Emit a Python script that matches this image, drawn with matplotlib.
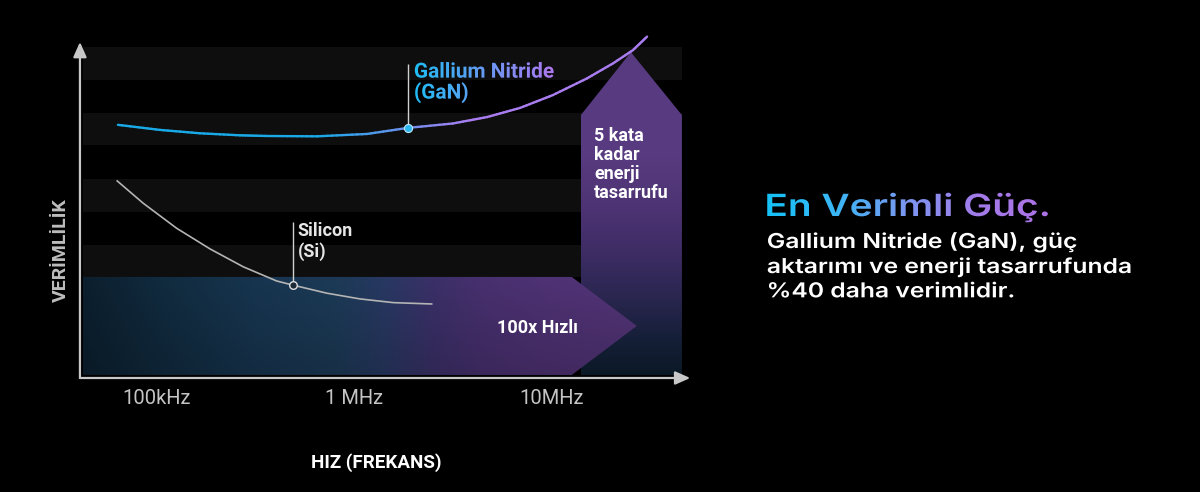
import numpy as np
import matplotlib
matplotlib.use('Agg')
import matplotlib.pyplot as plt
from matplotlib import patheffects
from matplotlib.patches import Polygon, Rectangle
from matplotlib.collections import LineCollection
from matplotlib.colors import to_rgb
from matplotlib.transforms import Affine2D, IdentityTransform, TransformedPath

# verimlilik egrileri (frekans MHz, verimlilik 0-100 keyfi birim)
gan_mhz = [0.0634, 0.1035, 0.165, 0.263, 0.361, 0.646, 1.157, 1.866, 3.15, 4.69,
           6.89, 10.1, 15.0, 20.4, 25.7, 30.3]
gan_eff = [74.9, 73.4, 72.4, 71.8, 71.6, 71.5, 72.2, 74.0, 75.3, 77.2,
           79.9, 83.7, 88.6, 93.1, 97.0, 101.0]
si_mhz = [0.0629, 0.0852, 0.1258, 0.1855, 0.2735, 0.4037, 0.4865, 0.7232, 1.066,
          1.572, 2.46]
si_eff = [58.3, 51.7, 44.3, 38.2, 32.9, 28.7, 27.5, 25.1, 23.4, 22.3, 21.9]
gan_point = (1.866, 74.0)
si_point = (0.4865, 27.5)

tick_mhz = [0.1, 1, 10]
tick_labels = ['100kHz', '1 MHz', '10MHz']

# arka plan seritleri ve oklar
band_mhz = (0.042, 45.5)
bands = [(29.9, 39.3), (49.1, 58.9), (68.9, 78.4), (88.2, 97.9)]
h_arrow_mhz = (0.042, 12.6, 26.9)     # baslangic, omuz, uc
h_arrow_eff = (0.9, 29.9)
v_arrow_mhz = (14.0, 25.1, 45.5)      # sol, uc, sag
v_arrow_eff = (0.9, 77.8, 96.4)       # alt, omuz, uc


class Boya(patheffects.AbstractPathEffect):
    '''yaziyi yatay genisletir, istenirse renk gecisiyle boyar (x0, x1 piksel)'''
    def __init__(self, colors=None, x0=0, x1=1, sx=1.0):
        super().__init__()
        self.x0, self.x1, self.sx = x0, x1, sx
        self.cols = None if colors is None else np.array([to_rgb(c) for c in colors])

    def draw_path(self, renderer, gc, tpath, affine, rgbFace=None):
        path = affine.transform_path(tpath)
        l0 = path.get_extents().x0
        path = Affine2D().translate(-l0, 0).scale(self.sx, 1).translate(l0, 0).transform_path(path)
        if self.cols is None:
            renderer.draw_path(gc, path, IdentityTransform(), rgbFace)
            return
        ext = path.get_extents()
        l, b = int(np.floor(ext.x0)), int(np.floor(ext.y0))
        w = int(np.ceil(ext.x1)) - l + 1
        h = int(np.ceil(ext.y1)) - b + 1
        xs = l + np.arange(w) + 0.5
        t = np.clip((xs - self.x0) / (self.x1 - self.x0), 0, 1)
        pos = np.linspace(0, 1, len(self.cols))
        rgb = np.stack([np.interp(t, pos, self.cols[:, k]) for k in range(3)], axis=1)
        img = np.full((h, w, 4), 255, dtype=np.uint8)
        img[:, :, :3] = (rgb * 255).astype(np.uint8)[None, :, :]
        gc2 = renderer.new_gc()
        gc2.copy_properties(gc)
        gc2.set_clip_path(TransformedPath(path, IdentityTransform()))
        renderer.draw_image(gc2, l, b, img)
        gc2.restore()


def ramp(vals, stops, colors):
    cols = np.array([to_rgb(c) for c in colors])
    return np.stack([np.interp(vals, stops, cols[:, k]) for k in range(3)], axis=-1)


lx = np.log10
fig = plt.figure(figsize=(12, 4.92), dpi=100, facecolor='black')
ax = fig.add_axes([68.1 / 1200, 0.2111, 632 / 1200, 0.74195])
ax.set_facecolor('black')
ax.set_xlim(-1.45, 1.75)
ax.set_ylim(-3, 105)
for s in ax.spines.values():
    s.set_visible(False)

# seritler
bx0, bx1 = lx(band_mhz[0]), lx(band_mhz[1])
for y0, y1 in bands:
    ax.add_patch(Rectangle((bx0, y0), bx1 - bx0, y1 - y0, color='#0e0e0e', lw=0, zorder=0))

# dikey ok (5 kata)
vl, vt, vr = lx(v_arrow_mhz[0]), lx(v_arrow_mhz[1]), lx(v_arrow_mhz[2])
vb, vs, vtop = v_arrow_eff
vpoly = Polygon([(vl, vb), (vl, vs), (vt, vtop), (vr, vs), (vr, vb)], closed=True,
                fc='none', ec='none')
ax.add_patch(vpoly)
yy = np.linspace(vb, vtop, 300)
vcol = ramp(yy, [0.9, 12, 24, 38, 50, 65, 100],
            ['#0b1926', '#161f38', '#2a2650', '#3f2d66', '#4d3373', '#573a7f', '#583b80'])
vimg = np.repeat(vcol[:, None, :], 2, axis=1)
im = ax.imshow(vimg, extent=[vl, vr, vb, vtop], origin='lower', aspect='auto',
               interpolation='bilinear', zorder=1)
im.set_clip_path(vpoly)

# yatay ok (100x)
hl, hs, ht = lx(h_arrow_mhz[0]), lx(h_arrow_mhz[1]), lx(h_arrow_mhz[2])
hb, htop = h_arrow_eff
hpoly = Polygon([(hl, hb), (hl, htop), (hs, htop), (ht, (hb + htop) / 2), (hs, hb)],
                closed=True, fc='none', ec='none')
ax.add_patch(hpoly)
xx = np.linspace(hl, ht, 400)
hcol = ramp(xx, [-1.375, -0.97, -0.5, -0.1, 0.15, 0.4, 0.65, 1.0, 1.43],
            ['#0c1f2e', '#112b3f', '#173550', '#1c3a56', '#283862', '#3b3068',
             '#48306f', '#4f3274', '#523477'])
vf = np.linspace(0.82, 1.0, 60)
himg = np.clip(hcol[None, :, :] * vf[:, None, None], 0, 1)
im2 = ax.imshow(himg, extent=[hl, ht, hb, htop], origin='lower', aspect='auto',
                interpolation='bilinear', zorder=2)
im2.set_clip_path(hpoly)

# eksenler
axc = '#c8c8c8'
ax.annotate('', xy=(-1.39, 99.4), xytext=(-1.39, 0), zorder=6,
            arrowprops=dict(arrowstyle='-|>,head_length=0.9,head_width=0.4', color=axc,
                            lw=1.6, shrinkA=0, shrinkB=0))
ax.annotate('', xy=(1.70, 0), xytext=(-1.39, 0), zorder=6,
            arrowprops=dict(arrowstyle='-|>,head_length=0.9,head_width=0.4', color=axc,
                            lw=1.6, shrinkA=0, shrinkB=0))

# GaN egrisi, renk gecisli
gx, gy = lx(gan_mhz), np.array(gan_eff)
segs = []
for i in range(len(gx) - 1):
    p = np.linspace(0, 1, 11)
    px = gx[i] + (gx[i + 1] - gx[i]) * p
    py = gy[i] + (gy[i + 1] - gy[i]) * p
    for j in range(10):
        segs.append([(px[j], py[j]), (px[j + 1], py[j + 1])])
mids = np.array([(s[0][0] + s[1][0]) / 2 for s in segs])
lc = LineCollection(segs, colors=ramp(mids, [-0.175, 0.585], ['#19a9e7', '#a97df0']),
                    linewidths=1.7, capstyle='round', joinstyle='round', zorder=4)
ax.add_collection(lc)

# Si egrisi
ax.plot(lx(si_mhz), si_eff, color='#b4b4b4', lw=1.2, zorder=4, solid_joinstyle='round')

# isaretler ve etiket cizgileri
ax.vlines(lx(gan_point[0]), gan_point[1], 92.9, color='#d0d0d0', lw=1, zorder=4)
ax.vlines(lx(si_point[0]), si_point[1], 46.2, color='#d0d0d0', lw=1, zorder=4)
ax.scatter([lx(gan_point[0])], [gan_point[1]], s=34, fc='#2ab6ee', ec='#bfe8fa',
           lw=0.8, zorder=5)
ax.scatter([lx(si_point[0])], [si_point[1]], s=30, fc='#1b2a36', ec='#e0e0e0',
           lw=1.0, zorder=5)

lf = 'Roboto'
ax.text(lx(gan_point[0]) + 0.03, 93.3, 'Gallium Nitride\n(GaN)', color='#6aa0f2',
        fontsize=15, family=lf, weight='bold', va='top', ha='left', linespacing=1.05,
        zorder=6, path_effects=[Boya(['#1fbdf5', '#b276f0'], 414, 557)])
ax.text(lx(si_point[0]) + 0.025, 46.1, 'Silicon\n(Si)', color='#e6e6e6',
        fontsize=13, family=lf, weight='bold', va='top', ha='left',
        linespacing=1.17, zorder=6)
ax.text(1.2127, 74.2, '5 kata\nkadar\nenerji\ntasarrufu', color='white',
        fontsize=13, family=lf, weight='bold', va='top', ha='left',
        linespacing=1.07, zorder=6)
ax.text(0.7215, 14.8, '100x Hızlı', color='white', fontsize=13, family=lf,
        weight='bold', va='center', ha='left', zorder=6)

ax.set_xticks(lx(tick_mhz))
ax.set_xticklabels(tick_labels, color='#c4c4c4', fontsize=14.5, family=lf)
ax.set_yticks([])
ax.tick_params(axis='x', length=0, pad=0.8)

ax.set_xlabel('HIZ (FREKANS)', color='white', fontsize=13.5, family=lf,
              weight='bold', va='center')
ax.xaxis.set_label_coords(0.4872, -0.205)
ax.set_ylabel('VERİMLİLİK', color='#bdbdbd', fontsize=14, family=lf,
              weight='bold', va='center', ha='center')
ax.yaxis.set_label_coords(-0.0112, 0.378)

# sag taraftaki metin
fig.text(765 / 1200, 1 - 207 / 492, 'En Verimli Güç.', fontsize=22, family='Inter',
         weight='semibold', va='center', ha='left', color='#6aa3f3',
         path_effects=[Boya(['#14c2f6', '#3cb6f6', '#7d95f0', '#a47ae9', '#ad72e6'],
                            765, 1053, sx=1.27)])
fig.text(767 / 1200, 1 - 233 / 492,
         'Gallium Nitride (GaN), güç\naktarımı ve enerji tasarrufunda\n%40 daha verimlidir.',
         fontsize=14.8, family='Inter', weight='semibold', color='white', va='top',
         ha='left', linespacing=1.45, path_effects=[Boya(sx=1.2)])

fig.savefig('out.png', dpi=100, facecolor='black')
